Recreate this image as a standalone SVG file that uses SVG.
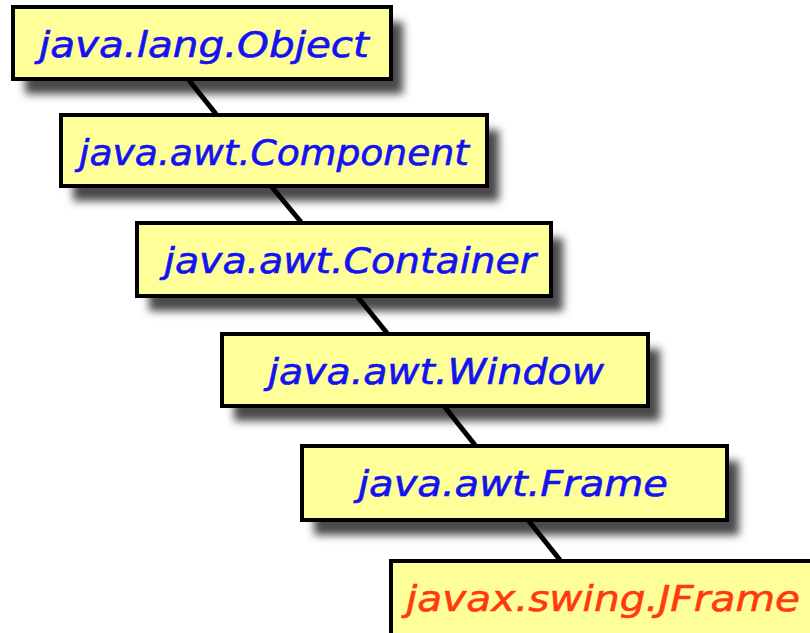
<svg xmlns="http://www.w3.org/2000/svg" width="810" height="633" viewBox="0 0 810 633">
<style>
.box{fill:#ffff99;stroke:#000;stroke-width:4}
.sh{fill:#4a4a4a;filter:url(#blur)}
.t{font-family:"DejaVu Sans","Liberation Sans",sans-serif;font-style:italic;font-size:36px;fill:#1212f2;stroke:#1212f2;stroke-width:0.6;text-anchor:middle}
.r{fill:#ff3a10;stroke:#ff3a10}
.c{stroke:#000;stroke-width:5;fill:none}
</style>
<defs>
<filter id="blur" x="-10%" y="-50%" width="120%" height="200%"><feGaussianBlur stdDeviation="4.5"/></filter>
</defs>
<rect width="810" height="633" fill="#fff"/>
<g id="shadows">
<rect class="sh" x="25" y="22" width="378" height="72"/>
<rect class="sh" x="73" y="130" width="426" height="71"/>
<rect class="sh" x="149" y="238" width="414" height="73"/>
<rect class="sh" x="234" y="349" width="426" height="72"/>
<rect class="sh" x="314" y="461" width="425" height="74"/>
</g>
<g id="connectors">
<line class="c" x1="188" y1="79" x2="216" y2="114"/>
<line class="c" x1="271" y1="186" x2="301" y2="222"/>
<line class="c" x1="357" y1="296" x2="387" y2="333"/>
<line class="c" x1="444" y1="406" x2="475" y2="445"/>
<line class="c" x1="528" y1="520" x2="560" y2="560"/>
</g>
<g id="n1"><rect class="box" x="13" y="7" width="378" height="72"/><text class="t" x="204" y="57" textLength="330" lengthAdjust="spacingAndGlyphs">java.lang.Object</text></g>
<g id="n2"><rect class="box" x="61" y="115" width="426" height="71"/><text class="t" x="274" y="165" textLength="390" lengthAdjust="spacingAndGlyphs">java.awt.Component</text></g>
<g id="n3"><rect class="box" x="137" y="223" width="414" height="73"/><text class="t" x="350" y="273" textLength="372" lengthAdjust="spacingAndGlyphs">java.awt.Container</text></g>
<g id="n4"><rect class="box" x="222" y="334" width="426" height="72"/><text class="t" x="436" y="384" textLength="336" lengthAdjust="spacingAndGlyphs">java.awt.Window</text></g>
<g id="n5"><rect class="box" x="302" y="446" width="425" height="74"/><text class="t" x="513" y="496" textLength="310" lengthAdjust="spacingAndGlyphs">java.awt.Frame</text></g>
<g id="n6"><rect class="box" x="391" y="561" width="425" height="76"/><text class="t r" x="603" y="611" textLength="394" lengthAdjust="spacingAndGlyphs">javax.swing.JFrame</text></g>
</svg>
